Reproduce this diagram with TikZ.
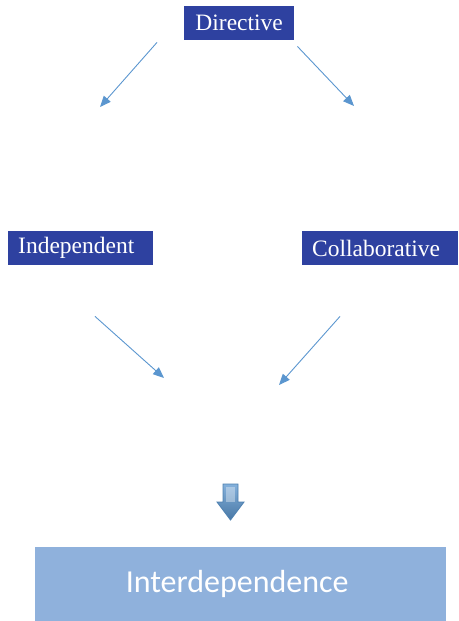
\documentclass[tikz,border=0pt]{standalone}
\usepackage{fontspec}
\setmainfont{Liberation Serif}
\newfontfamily\boxfont{Carlito}
\usetikzlibrary{arrows.meta,positioning,calc}

\definecolor{stylebox}{HTML}{2E41A0}
\definecolor{resultbox}{HTML}{8FB1DC}
\definecolor{linkblue}{HTML}{5B96CF}

\begin{document}
\begin{tikzpicture}[x=1pt,y=-1pt,
    mode/.style={fill=stylebox,text=white,font=\fontsize{23.5}{26}\selectfont,inner xsep=10pt,inner ysep=0pt,minimum height=34pt,anchor=north west},
    link/.style={draw=linkblue,line width=0.9pt,-{Triangle[length=11pt,width=9pt]}}]
  \useasboundingbox (0,0) rectangle (458,621); % 画面全体の大きさ
  \node[mode,text width=90pt,align=center] (dir) at (184,6) {Directive}; % 上の箱
  \node[mode,text width=125pt,align=left] (ind) at (8,231) {Independent}; % 左の箱
  \node[mode,text width=136pt,align=left] (col) at (302,231) {Collaborative}; % 右の箱
  \node[fill=resultbox,text=white,font=\boxfont\fontsize{32}{36}\selectfont,
    inner sep=0pt,minimum width=411pt,minimum height=74pt,anchor=north west]
    (inter) at (35,547) {Interdependence\kern7pt}; % 下の大きな箱
  % 斜めの矢印の先端（どこにもつながらない）
  \coordinate (dl) at (100,107);
  \coordinate (dr) at (354,106);
  \coordinate (il) at (164,378);
  \coordinate (ir) at (279,385);
  \draw[link] ($(dir.south west)+(-27,2)$) -- (dl);
  \draw[link] ($(dir.south east)+(3,6)$) -- (dr);
  \draw[link] ($(ind.south west)+(87,51)$) -- (il);
  \draw[link] ($(col.south west)+(38,51)$) -- (ir);
  % 太い下向き矢印
  \shade[top color=linkblue!75!white,bottom color=linkblue!80!black,draw=linkblue!85!black,line width=0.8pt]
    (223,484) -- (238,484) -- (238,502) -- (244,502) -- (230.5,520)
    -- (217,502) -- (223,502) -- cycle;
  \fill[white,opacity=0.35] (226,487) rectangle (235,502); % 矢印の中の明るい筋
\end{tikzpicture}
\end{document}
